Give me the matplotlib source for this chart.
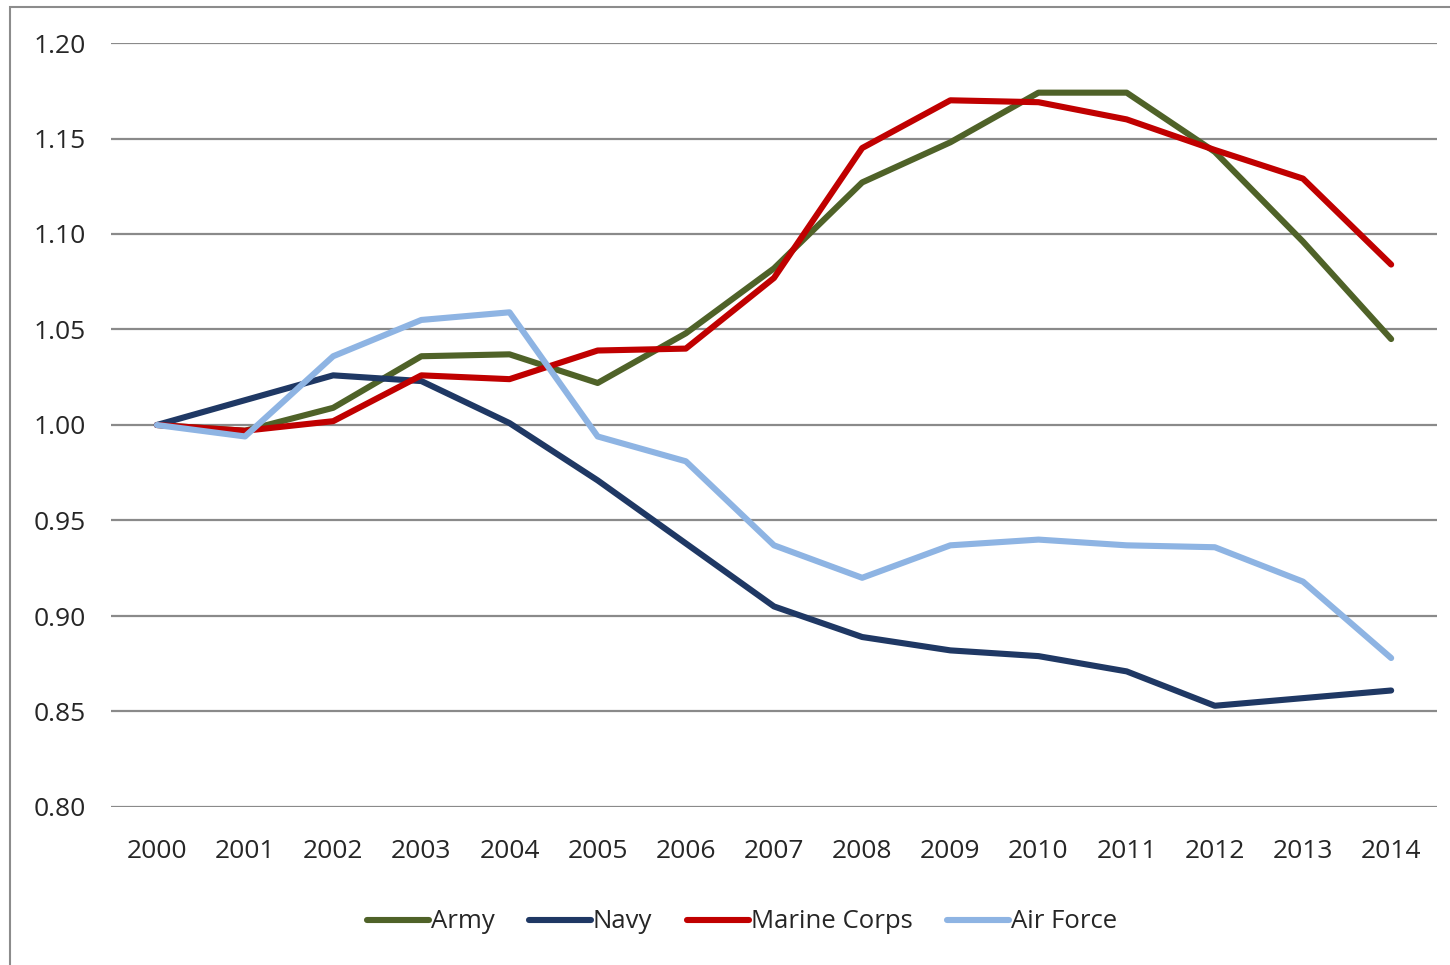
import matplotlib.pyplot as plt
from matplotlib.patches import Rectangle

years = list(range(2000, 2015))

army = [1.000, 0.997, 1.009, 1.036, 1.037, 1.022, 1.048, 1.082, 1.127, 1.148,
        1.174, 1.174, 1.143, 1.096, 1.045]
navy = [1.000, 1.013, 1.026, 1.023, 1.001, 0.971, 0.938, 0.905, 0.889, 0.882,
        0.879, 0.871, 0.853, 0.857, 0.861]
marine_corps = [1.000, 0.997, 1.002, 1.026, 1.024, 1.039, 1.040, 1.077, 1.145, 1.170,
                1.169, 1.160, 1.144, 1.129, 1.084]
air_force = [1.000, 0.994, 1.036, 1.055, 1.059, 0.994, 0.981, 0.937, 0.920, 0.937,
             0.940, 0.937, 0.936, 0.918, 0.878]

series = [("Army", army, "#4f6228"),
          ("Navy", navy, "#1f3864"),
          ("Marine Corps", marine_corps, "#c00000"),
          ("Air Force", air_force, "#8eb4e3")]

plt.rcParams['font.family'] = ['Open Sans', 'DejaVu Sans']

fig = plt.figure(figsize=(14.5, 9.65), dpi=100)
ax = fig.add_axes([111/1450, 1 - 807/965, (1437 - 111)/1450, (807 - 43)/965])

# outer chart border
fig.patches.append(Rectangle((10/1450, -0.05), 1.1, 1.05 - 7/965,
                             transform=fig.transFigure, fill=False,
                             edgecolor="#8c8c8c", lw=1.5))

for name, vals, col in series:
    ax.plot(years, vals, color=col, lw=4.4, label=name, solid_capstyle='round')

ax.set_ylim(0.80, 1.20)
ax.set_yticks([0.80, 0.85, 0.90, 0.95, 1.00, 1.05, 1.10, 1.15, 1.20])
ax.set_yticklabels(["%.2f" % v for v in ax.get_yticks()])
ax.set_xlim(2000 - 0.52, 2014 + 0.52)
ax.set_xticks(years)
ax.yaxis.grid(True, color="#8a8a8a", lw=1.6)
ax.set_axisbelow(True)
for s in ax.spines.values():
    s.set_visible(False)
ax.tick_params(length=0, labelsize=19, colors="#262626")
ax.tick_params(axis='y', pad=18)
ax.tick_params(axis='x', pad=23)

fig.legend(loc='center', bbox_to_anchor=(742/1450, 1 - 922/965), ncol=4,
           frameon=False, fontsize=18.5, handlelength=2.4, handletextpad=0.08,
           columnspacing=1.35, labelcolor="#262626")

fig.savefig("out.png", dpi=100)
